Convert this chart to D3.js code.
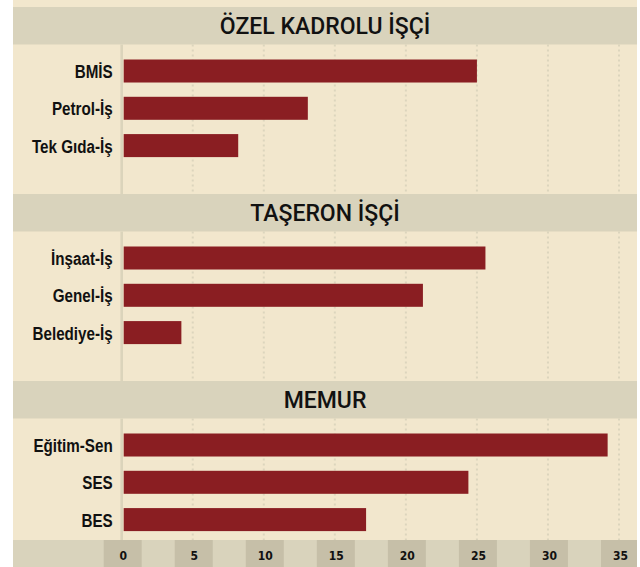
<!DOCTYPE html>
<html><head><meta charset="utf-8">
<script src="https://cdn.jsdelivr.net/npm/d3@7"></script>
<style>html,body{margin:0;padding:0;background:#fff;}svg{display:block;}</style>
</head><body>
<div id="chart"></div>
<script>
// ---- data ----
const groupTitles = ["ÖZEL KADROLU İŞÇİ", "TAŞERON İŞÇİ", "MEMUR"];
const ozelUnions = ["BMİS", "Petrol-İş", "Tek Gıda-İş"];
const ozelValues = [25.0, 13.1, 8.2];
const taseronUnions = ["İnşaat-İş", "Genel-İş", "Belediye-İş"];
const taseronValues = [25.6, 21.2, 4.2];
const memurUnions = ["Eğitim-Sen", "SES", "BES"];
const memurValues = [34.2, 24.4, 17.2];
const tickValues = [0, 5, 10, 15, 20, 25, 30, 35];

const groupData = [
  {title: groupTitles[0], cats: ozelUnions, vals: ozelValues},
  {title: groupTitles[1], cats: taseronUnions, vals: taseronValues},
  {title: groupTitles[2], cats: memurUnions, vals: memurValues}
];

// ---- layout ----
const W = 640, H = 567;
const left = 13, right = 637;
const beige = "#f2e7cd", gray = "#d9d3bc", box = "#c6bfa8", barColor = "#8a1e22";
const headerTops = [7, 194, 381];
const headerH = 37.5;
const panelBottoms = [194, 381, 540];
const axisTop = 540;

const svg = d3.select("#chart").append("svg").attr("width", W).attr("height", H);
svg.append("rect").attr("x", 0).attr("y", 0).attr("width", W).attr("height", H).attr("fill", "#fff");
svg.append("rect").attr("x", left).attr("y", 0).attr("width", right - left).attr("height", H).attr("fill", beige);

const x = d3.scaleLinear().domain([0, 35]).range([121.7, 619]);

groupData.forEach((g, i) => {
  const hTop = headerTops[i];
  const pTop = hTop + headerH;
  const pBot = panelBottoms[i];
  const gg = svg.append("g");

  gg.selectAll("line.grid").data(tickValues.filter(t => t > 0)).enter().append("line")
    .attr("class", "grid")
    .attr("x1", d => x(d)).attr("x2", d => x(d))
    .attr("y1", pTop).attr("y2", pBot)
    .attr("stroke", "#dcd5bd").attr("stroke-width", 2).attr("stroke-dasharray", "2,3");
  gg.append("line").attr("x1", x(0)).attr("x2", x(0)).attr("y1", pTop).attr("y2", pBot)
    .attr("stroke", "#dbd4bb").attr("stroke-width", 2.6);

  gg.append("rect").attr("x", left).attr("y", hTop).attr("width", right - left).attr("height", headerH)
    .attr("fill", gray);
  gg.append("text").attr("x", (left + right) / 2).attr("y", hTop + headerH / 2 + 8)
    .attr("text-anchor", "middle")
    .attr("font-family", "Roboto, 'DejaVu Sans Condensed', sans-serif")
    .attr("font-weight", 500)
    .attr("font-size", 23).attr("fill", "#111").text(g.title);

  const y = d3.scaleBand().domain(g.cats)
    .range([pTop + 15, pTop + 15 + 97.6]).paddingInner(0.383).paddingOuter(0);

  const rows = g.cats.map((c, j) => ({cat: c, val: g.vals[j]}));
  gg.selectAll("rect.bar").data(rows).enter().append("rect")
    .attr("class", "bar")
    .attr("x", x(0) + 2)
    .attr("y", d => y(d.cat))
    .attr("width", d => x(d.val) - x(0) - 2)
    .attr("height", y.bandwidth())
    .attr("fill", barColor);

  gg.selectAll("text.lab").data(rows).enter().append("text")
    .attr("class", "lab")
    .attr("transform", d => `translate(${x(0) - 9},${y(d.cat) + y.bandwidth() / 2 + 7}) scale(0.8,1)`)
    .attr("text-anchor", "end")
    .attr("font-family", "'Liberation Sans', Arial, sans-serif")
    .attr("font-weight", "bold")
    .attr("font-size", 19).attr("fill", "#111")
    .text(d => d.cat);
});

// bottom axis band
const ax = svg.append("g");
ax.append("rect").attr("x", left).attr("y", axisTop).attr("width", right - left).attr("height", H - axisTop).attr("fill", gray);
ax.selectAll("rect.tb").data(tickValues).enter().append("rect")
  .attr("class", "tb")
  .attr("x", d => x(d) + 1 - 19).attr("y", axisTop)
  .attr("width", d => Math.min(38, right - (x(d) + 1 - 19))).attr("height", H - axisTop)
  .attr("fill", box);
const axis = d3.axisBottom(x).tickValues(tickValues).tickSize(0).tickPadding(0).tickFormat(d3.format("d"));
const axG = ax.append("g").attr("transform", `translate(1,${axisTop})`).call(axis);
axG.select(".domain").remove();
axG.selectAll("text")
  .attr("y", 19.5).attr("dy", 0)
  .attr("font-family", "'DejaVu Sans Condensed', 'DejaVu Sans', sans-serif")
  .attr("font-weight", "bold").attr("font-size", 12).attr("fill", "#111");
</script>
</body></html>
